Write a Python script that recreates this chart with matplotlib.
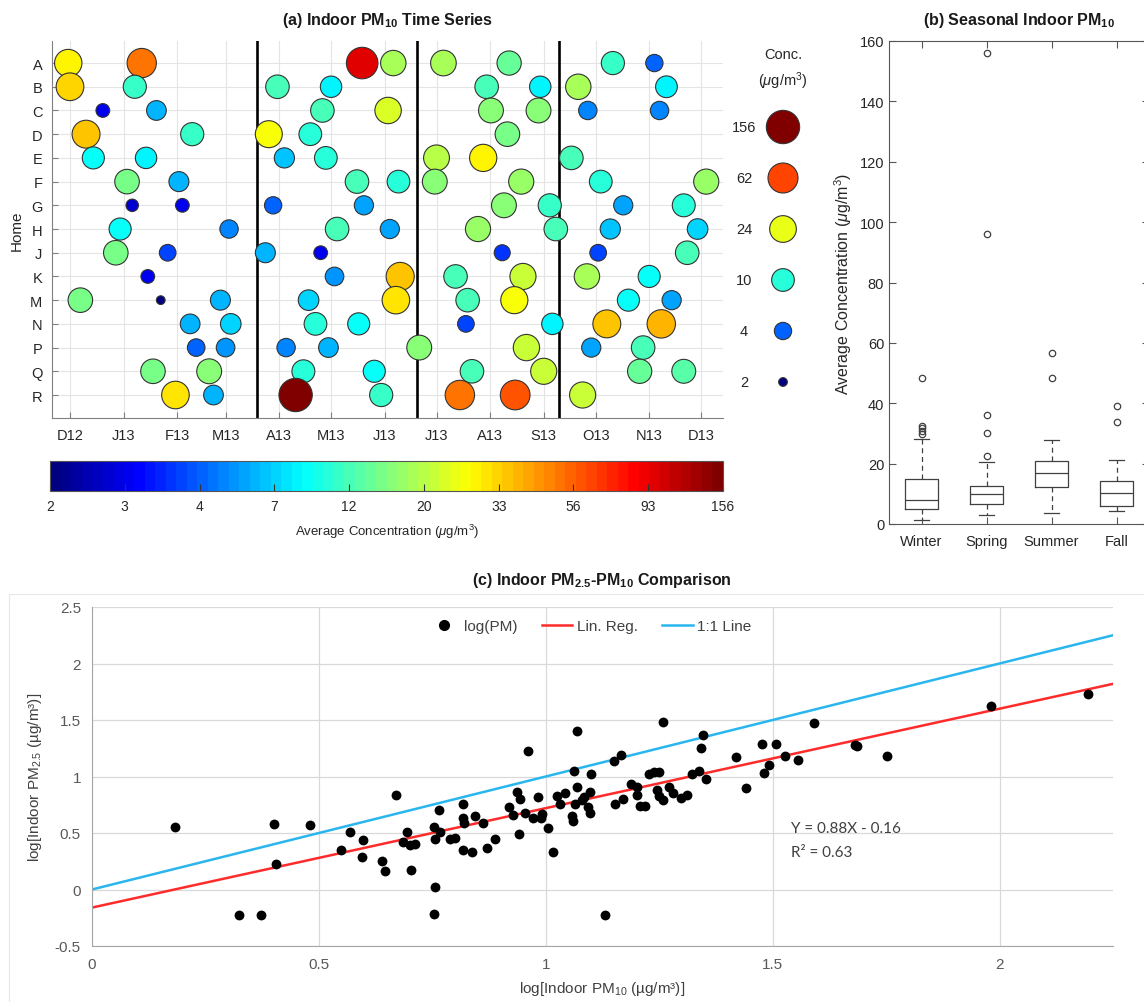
import numpy as np
import matplotlib
matplotlib.use("Agg")
import matplotlib.pyplot as plt
from matplotlib.colors import Normalize, ListedColormap
from matplotlib.colorbar import ColorbarBase
from matplotlib.lines import Line2D
from matplotlib.patches import Rectangle

plt.rcParams["font.family"] = ["Liberation Sans", "DejaVu Sans"]
plt.rcParams["axes.unicode_minus"] = False
plt.rcParams["mathtext.fontset"] = "custom"
plt.rcParams["mathtext.rm"] = "Liberation Sans"
plt.rcParams["mathtext.it"] = "Liberation Sans:italic"
plt.rcParams["mathtext.bf"] = "Liberation Sans:bold"

# ── (a) time series: days after 2012-12-01, concentration (ug/m3) ─────────
homes = ["A", "B", "C", "D", "E", "F", "G", "H", "J", "K", "M", "N", "P", "Q", "R"]
ts_day = [
    [-1, 41.5, 169, 187, 216, 254, 314, 338],
    [0, 37.5, 120, 151, 241, 272, 294, 345],
    [19, 50, 146, 184, 243.5, 271, 299.5, 341],
    [9.3, 70.7, 115, 139, 253],
    [13.5, 44, 124, 148, 212, 239, 290],
    [33, 63, 166, 190, 211, 261, 307, 368],
    [36, 65, 117.5, 170, 251, 277.5, 320, 355],
    [29, 92, 154.5, 185, 236, 281, 312.5, 363],
    [26.5, 56.5, 113, 145, 250, 305.5, 357],
    [45, 153, 191, 223, 262, 299, 335],
    [6, 52.5, 87, 138, 188.5, 230, 257, 323, 348],
    [69.5, 93, 142, 167, 229, 279, 310.5, 342],
    [73, 90, 125, 149.5, 202, 264, 301.5, 331.5],
    [48, 80.5, 135, 176, 232.5, 274, 329.5, 355],
    [61, 83, 130.5, 180, 225.5, 257.5, 296.5],
]
ts_conc = [
    [29, 50, 95, 18, 19, 14, 11, 4],
    [32, 11, 12, 8, 12, 8, 18, 8.5],
    [3, 6, 12, 22.5, 16, 16, 4.8, 4.8],
    [34, 11, 26, 10, 15],
    [9, 8, 6.5, 10, 20, 28, 12],
    [15, 6.3, 12, 10, 16, 17, 10, 17],
    [2.7, 3, 4, 5.5, 16, 11, 5.5, 10.5],
    [9, 4.8, 12, 5.5, 17, 12, 6.5, 7],
    [15, 3.8, 6.3, 3, 3.6, 3.8, 12],
    [3, 5, 36, 12, 21, 18, 9],
    [15, 2, 6.3, 7, 30.5, 12, 27, 9, 5.5],
    [6, 7, 10, 9, 3.8, 8, 34, 39],
    [4.2, 5, 4.8, 6, 16, 22, 5.5, 12],
    [15, 16, 10.5, 9, 12, 21, 14, 13],
    [31, 6, 156, 11, 52, 57, 21],
]
season_breaks = [108.2, 200.7, 282.9]
month_labels = ["D12", "J13", "F13", "M13", "A13", "M13", "J13",
                "J13", "A13", "S13", "O13", "N13", "D13"]
cbar_ticks = [2, 3, 4, 7, 12, 20, 33, 56, 93, 156]
legend_conc = [156, 62, 24, 10, 4, 2]

# ── (b) seasonal box statistics ──────────────────────────────────────────
seasons = ["Winter", "Spring", "Summer", "Fall"]
box_lo = [1.3, 2.9, 3.5, 4.2]
box_q1 = [4.9, 6.5, 12.1, 6.1]
box_med = [8.0, 9.8, 16.8, 10.4]
box_q3 = [14.8, 12.6, 20.9, 14.2]
box_hi = [28.0, 20.5, 27.7, 21.1]
box_out = [[29.8, 30.8, 31.8, 32.6, 48.5],
           [22.5, 30.3, 36.0, 96.0, 156.0],
           [48.2, 56.6],
           [33.9, 39.1]]

# ── (c) log PM10 vs log PM2.5 ────────────────────────────────────────────
pm10_log = [0.182, 0.323, 0.373, 0.401, 0.406, 0.481, 0.549, 0.568, 0.598, 0.594,
            0.639, 0.646, 0.670, 0.694, 0.686, 0.701, 0.712, 0.703, 0.755, 0.753,
            0.753, 0.764, 0.756, 0.766, 0.788, 0.800, 0.817, 0.817, 0.819, 0.817,
            0.838, 0.844, 0.861, 0.870, 0.888, 0.918, 0.927, 0.936, 0.943, 0.940,
            0.954, 0.971, 0.960, 0.982, 0.991, 0.989, 1.004, 1.015, 1.024, 1.032,
            1.043, 1.068, 1.062, 1.068, 1.057, 1.061, 1.065, 1.079, 1.084, 1.098,
            1.100, 1.094, 1.098, 1.130, 1.151, 1.166, 1.153, 1.170, 1.187, 1.202,
            1.200, 1.208, 1.219, 1.228, 1.238, 1.250, 1.245, 1.250, 1.259, 1.272,
            1.281, 1.298, 1.312, 1.258, 1.347, 1.342, 1.323, 1.338, 1.353, 1.420,
            1.442, 1.482, 1.492, 1.476, 1.508, 1.528, 1.556, 1.591, 1.682, 1.686,
            1.751, 1.981, 2.194]
pm25_log = [0.55, -0.23, -0.23, 0.58, 0.23, 0.57, 0.35, 0.51, 0.44, 0.29,
            0.25, 0.16, 0.84, 0.51, 0.42, 0.39, 0.40, 0.17, 0.02, -0.22,
            0.55, 0.70, 0.45, 0.51, 0.45, 0.46, 0.76, 0.63, 0.59, 0.35,
            0.33, 0.65, 0.59, 0.37, 0.45, 0.73, 0.66, 0.86, 0.80, 0.49,
            0.68, 0.63, 1.23, 0.82, 0.67, 0.63, 0.54, 0.33, 0.83, 0.76,
            0.85, 1.40, 1.05, 0.91, 0.65, 0.61, 0.76, 0.79, 0.82, 0.86,
            1.02, 0.73, 0.68, -0.23, 1.14, 1.19, 0.76, 0.80, 0.93, 0.91,
            0.84, 0.74, 0.74, 1.02, 1.04, 1.04, 0.88, 0.83, 0.79, 0.91,
            0.85, 0.81, 0.84, 1.48, 1.37, 1.25, 1.02, 1.05, 0.98, 1.17,
            0.90, 1.03, 1.10, 1.29, 1.29, 1.18, 1.15, 1.47, 1.28, 1.27,
            1.18, 1.62, 1.73]
fit_slope, fit_int = 0.88, -0.16

# ── styling helpers ──────────────────────────────────────────────────────
W, H = 1144, 1003
SIZE_REF = [2, 4, 10, 24, 62, 156]          # legend concentrations
SIZE_PX = [8.7, 17.3, 22.7, 26.7, 30.0, 33.3]  # matching marker diameters (px)
TXT = "#262626"

# MATLAB-style jet(64)
_x = np.linspace(0, 1, 64)
_jet = np.clip(np.stack([1.5 - np.abs(4 * _x - 3),
                         1.5 - np.abs(4 * _x - 2),
                         1.5 - np.abs(4 * _x - 1)], axis=1), 0, 1)
cmap = ListedColormap(_jet)

fig = plt.figure(figsize=(W / 100, H / 100), dpi=100)


def px_axes(l, t, r, b):
    return fig.add_axes([l / W, 1 - b / H, (r - l) / W, (b - t) / H])


def px_text(x, y, s, **kw):
    fig.text(x / W, 1 - y / H, s, **kw)


def cpos(c):
    return np.interp(np.log10(c), np.log10(cbar_ticks), np.linspace(0, 1, len(cbar_ticks)))


def msize(c):
    d = np.interp(np.log10(c), np.log10(SIZE_REF), SIZE_PX)
    return (d * 0.72) ** 2


# ── (a) Indoor PM10 time series ──────────────────────────────────────────
ax = px_axes(52, 42, 723, 419)
for i, h in enumerate(homes):
    c = np.array(ts_conc[i], dtype=float)
    d = np.array(ts_day[i], dtype=float)
    ax.scatter(d, np.full(len(d), i + 1), s=msize(c), c=cmap(cpos(c)),
               edgecolors="#333333", linewidths=0.8, zorder=3)
for ds in season_breaks:
    ax.axvline(ds, color="black", lw=1.9, zorder=2)

months = np.arange("2012-12", "2014-01", dtype="datetime64[M]").astype("datetime64[D]")
month_days = (months - np.datetime64("2012-12-01")).astype(int)
ax.set_xticks(month_days)
ax.set_xticklabels(month_labels)
ax.set_yticks(np.arange(1, len(homes) + 1))
ax.set_yticklabels(homes)
ax.set_xlim(-10.4, 377.7)
ax.set_ylim(15.97, 0.07)
ax.grid(color="#e4e4e4", lw=0.8)
ax.set_axisbelow(True)
for sp in ["top", "right"]:
    ax.spines[sp].set_visible(False)
for sp in ["left", "bottom"]:
    ax.spines[sp].set_color("#808080")
ax.tick_params(direction="in", length=4, color="#808080", labelsize=10.5,
               labelcolor=TXT, pad=7)
px_text(387, 20, r"(a) Indoor PM$_{\mathbf{10}}$ Time Series", ha="center",
        va="center", fontsize=11.5, fontweight="bold", color="#1a1a1a")
px_text(17, 231, "Home", rotation=90, ha="center", va="center",
        fontsize=11, color=TXT)

# size / colour legend
axl = px_axes(735, 102.5, 831, 408.5)
axl.set_xlim(-1, 1)
axl.set_ylim(len(legend_conc) - 0.5, -0.5)
axl.axis("off")
lc = np.array(legend_conc, dtype=float)
ly = np.arange(len(lc))
axl.scatter(np.zeros(len(lc)), ly, s=msize(lc), c=cmap(cpos(lc)),
            edgecolors="#333333", linewidths=0.8)
for yy, v in zip(ly, legend_conc):
    axl.text(-0.81, yy, str(v), ha="center", va="center", fontsize=10.5, color=TXT)
px_text(783, 55, "Conc.", ha="center", va="center", fontsize=10.5, color=TXT)
px_text(783, 81, r"($\mu$g/m$^3$)", ha="center", va="center", fontsize=10.5, color=TXT)

# colour bar
cax = px_axes(50, 462, 723, 492)
cb = ColorbarBase(cax, cmap=cmap, norm=Normalize(0, 1), orientation="horizontal",
                  ticks=np.linspace(0, 1, len(cbar_ticks)))
cb.set_ticklabels([str(v) for v in cbar_ticks])
cb.outline.set_edgecolor("#555555")
cb.outline.set_linewidth(0.8)
cax.tick_params(direction="in", length=5, color="#333333", labelsize=10,
                labelcolor=TXT, pad=6)
px_text(387, 532, r"Average Concentration ($\mu$g/m$^3$)", ha="center",
        va="center", fontsize=9.5, color=TXT)

# ── (b) seasonal box plot ────────────────────────────────────────────────
axb = px_axes(889, 42, 1149, 525)
stats = []
for k, name in enumerate(seasons):
    stats.append(dict(label=name, whislo=box_lo[k], q1=box_q1[k], med=box_med[k],
                      q3=box_q3[k], whishi=box_hi[k], fliers=box_out[k]))
bc = "#404040"
axb.bxp(stats, positions=np.arange(1, len(seasons) + 1), widths=0.5,
        capwidths=0.24,
        boxprops=dict(color=bc, lw=0.9),
        whiskerprops=dict(color=bc, lw=0.9, linestyle=(0, (4, 3))),
        capprops=dict(color=bc, lw=0.9),
        medianprops=dict(color=bc, lw=0.9),
        flierprops=dict(marker="o", markerfacecolor="none", markeredgecolor=bc,
                        markersize=4.6, markeredgewidth=0.9))
axb.set_xlim(0.5, 4.5)
axb.set_ylim(0, 160)
axb.set_yticks(np.arange(0, 161, 20))
for sp in axb.spines.values():
    sp.set_color("#555555")
    sp.set_linewidth(0.8)
axb.tick_params(direction="in", length=5, color="#555555", labelsize=10.5,
                labelcolor=TXT, top=True, right=True)
axb.tick_params(axis="x", pad=7)
axb.set_ylabel(r"Average Concentration ($\mu$g/m$^3$)", fontsize=11.5, color=TXT,
               labelpad=4)
px_text(1019, 20, r"(b) Seasonal Indoor PM$_{\mathbf{10}}$", ha="center",
        va="center", fontsize=11.5, fontweight="bold", color="#1a1a1a")

# ── (c) PM2.5 vs PM10 ────────────────────────────────────────────────────
fig.patches.append(Rectangle((9 / W, -0.01), 1.0, 1 - 595 / H + 0.01,
                             transform=fig.transFigure, fill=False,
                             edgecolor="#e8e8e8", lw=0.8))
axc = px_axes(92, 608, 1113, 947)
axc.scatter(pm10_log, pm25_log, s=50, color="black", zorder=3, linewidths=0)
xl = np.array([0.0, 2.25])
axc.plot(xl, fit_slope * xl + fit_int, color="#ff2b2b", lw=1.8, zorder=2)
axc.plot(xl, xl, color="#29b6ee", lw=1.8, zorder=2)
axc.set_xlim(0, 2.25)
axc.set_ylim(-0.5, 2.5)
axc.set_xticks([0, 0.5, 1, 1.5, 2])
axc.set_xticklabels(["0", "0.5", "1", "1.5", "2"])
axc.set_yticks([-0.5, 0, 0.5, 1, 1.5, 2, 2.5])
axc.set_yticklabels(["-0.5", "0", "0.5", "1", "1.5", "2", "2.5"])
axc.grid(color="#d9d9d9", lw=0.9)
axc.set_axisbelow(True)
for sp in ["top", "right"]:
    axc.spines[sp].set_visible(False)
for sp in ["left", "bottom"]:
    axc.spines[sp].set_color("#a6a6a6")
axc.tick_params(length=0, labelsize=11, labelcolor="#595959", pad=8)
axc.set_xlabel(r"log[Indoor PM$_{10}$ (µg/m³)]", fontsize=11, color="#404040", labelpad=6)
axc.set_ylabel(r"log[Indoor PM$_{2.5}$ (µg/m³)]", fontsize=11, color="#404040", labelpad=8)
handles = [Line2D([], [], marker="o", color="black", ls="none", markersize=7),
           Line2D([], [], color="#ff2b2b", lw=1.8),
           Line2D([], [], color="#29b6ee", lw=1.8)]
axc.legend(handles, ["log(PM)", "Lin. Reg.", "1:1 Line"], loc="center",
           bbox_to_anchor=(0.488, 0.944), ncol=3, frameon=False, fontsize=11,
           handlelength=2.0, handletextpad=0.3, columnspacing=1.6,
           labelcolor="#404040")
axc.text(1.54, 0.544, "Y = 0.88X - 0.16", fontfamily="Lato", fontsize=11,
         color="#404040", va="center")
axc.text(1.54, 0.33, "R² = 0.63", fontfamily="Lato", fontsize=11,
         color="#404040", va="center")
px_text(602, 581, r"(c) Indoor PM$_{\mathbf{2.5}}$-PM$_{\mathbf{10}}$ Comparison",
        ha="center", va="center", fontsize=11.5, fontweight="bold", color="#1a1a1a")

fig.savefig("out.png", dpi=100)
